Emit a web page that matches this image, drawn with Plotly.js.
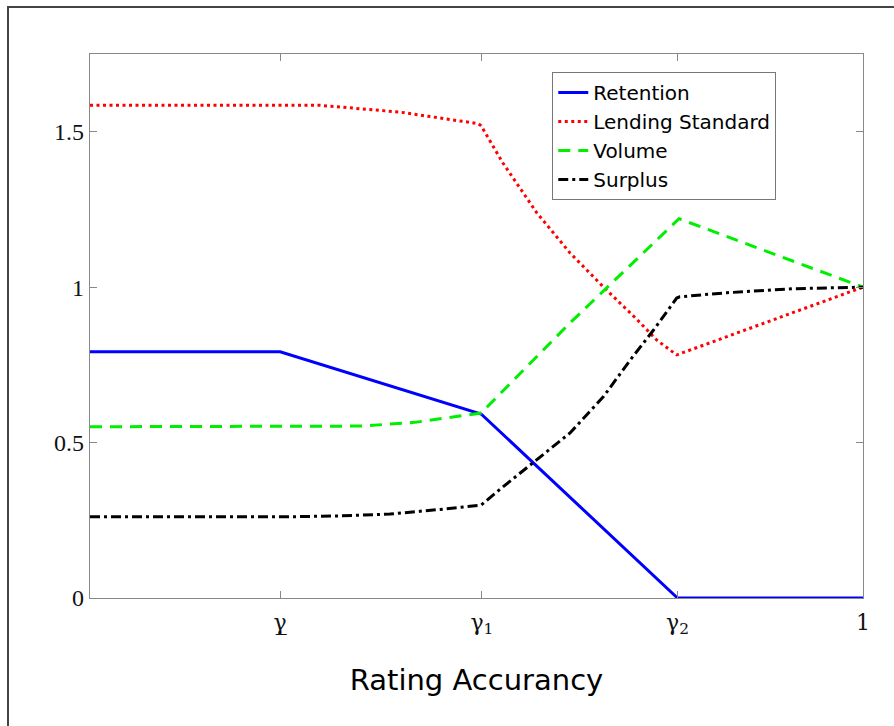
<!DOCTYPE html>
<html>
<head>
<meta charset="utf-8">
<script src="https://cdn.plot.ly/plotly-3.0.1.min.js"></script>
<style>
  html, body { margin: 0; padding: 0; background: #fff; }
  #wrap { position: relative; width: 894px; height: 726px; }
  #chart { position: absolute; left: 0; top: 0; width: 894px; height: 726px; }
  #frame { position: absolute; left: 7px; top: 6px; right: 0; bottom: 0;
           border-top: 2px solid #444; border-left: 2px solid #444; pointer-events: none; }
</style>
</head>
<body>
<div id="wrap"><div id="chart"></div><div id="frame"></div></div>
<script>
// Series names
const seriesNames = ["Retention", "Lending Standard", "Volume", "Surplus"];

// Tick positions / labels on the accuracy axis
const xTickVals = [0.246, 0.507, 0.760, 1.0];
const xTickText = ["γ\u0332", "γ<sub>1</sub>", "γ<sub>2</sub>", "1"];
const yTickVals = [0, 0.5, 1, 1.5];

// Retention
const retentionX = [0, 0.246, 0.506, 0.760, 1.0];
const retentionY = [0.792, 0.792, 0.592, 0.0, 0.0];

// Lending standard
const lendingX = [0, 0.142, 0.2975, 0.401, 0.453, 0.502, 0.506, 0.534, 0.578, 0.621, 0.664, 0.708, 0.733, 0.759, 1.0];
const lendingY = [1.585, 1.585, 1.585, 1.563, 1.545, 1.526, 1.519, 1.400, 1.239, 1.110, 1.001, 0.895, 0.830, 0.782, 1.0];

// Volume
const volumeX = [0, 0.2, 0.35, 0.42, 0.46, 0.506, 0.621, 0.762, 1.0];
const volumeY = [0.551, 0.551, 0.553, 0.565, 0.578, 0.595, 0.885, 1.220, 1.0];

// Surplus
const surplusX = [0, 0.25, 0.323, 0.388, 0.453, 0.502, 0.506, 0.534, 0.572, 0.621, 0.664, 0.699, 0.729, 0.759, 0.763, 0.824, 0.91, 1.0];
const surplusY = [0.261, 0.261, 0.264, 0.270, 0.285, 0.299, 0.299, 0.357, 0.434, 0.531, 0.647, 0.766, 0.862, 0.965, 0.969, 0.982, 0.995, 1.0];

const traces = [
  { x: retentionX, y: retentionY, name: seriesNames[0], mode: "lines",
    line: { color: "#0000ff", width: 3 } },
  { x: lendingX, y: lendingY, name: seriesNames[1], mode: "lines",
    line: { color: "#ff0000", width: 3, dash: "3px,3.5px" } },
  { x: volumeX, y: volumeY, name: seriesNames[2], mode: "lines",
    line: { color: "#00ee00", width: 3, dash: "12px,8px" } },
  { x: surplusX, y: surplusY, name: seriesNames[3], mode: "lines",
    line: { color: "#000000", width: 3, dash: "10px,4px,3px,4px" } }
];

const axisCommon = {
  showgrid: false, zeroline: false, showline: true, mirror: "ticks",
  linecolor: "#888", linewidth: 1.3, ticks: "inside", ticklen: 7, tickwidth: 1, tickcolor: "#888",
  tickfont: { family: "DejaVu Serif, Liberation Serif, serif", size: 22, color: "#111" }
};

const layout = {
  width: 894, height: 726,
  margin: { l: 90, r: 31, t: 54, b: 128 },
  paper_bgcolor: "rgba(0,0,0,0)", plot_bgcolor: "#fff",
  showlegend: true,
  xaxis: Object.assign({}, axisCommon, {
    range: [0, 1], tickmode: "array", tickvals: xTickVals, ticktext: xTickText,
    ticklabelstandoff: 4,
    title: { text: "Rating Accurancy", font: { family: "DejaVu Sans, sans-serif", size: 29, color: "#000" }, standoff: 32 }
  }),
  yaxis: Object.assign({}, axisCommon, {
    range: [0, 1.75], tickmode: "array", tickvals: yTickVals,
    tickfont: { family: "Liberation Serif, serif", size: 24, color: "#111" }
  }),
  legend: {
    x: 0.598, y: 0.967, xanchor: "left", yanchor: "top",
    bgcolor: "#fff", bordercolor: "#777", borderwidth: 1,
    font: { family: "DejaVu Sans, sans-serif", size: 20, color: "#000" },
    tracegroupgap: 0
  }
};

Plotly.newPlot("chart", traces, layout, { displayModeBar: false, staticPlot: true });
</script>
</body>
</html>
